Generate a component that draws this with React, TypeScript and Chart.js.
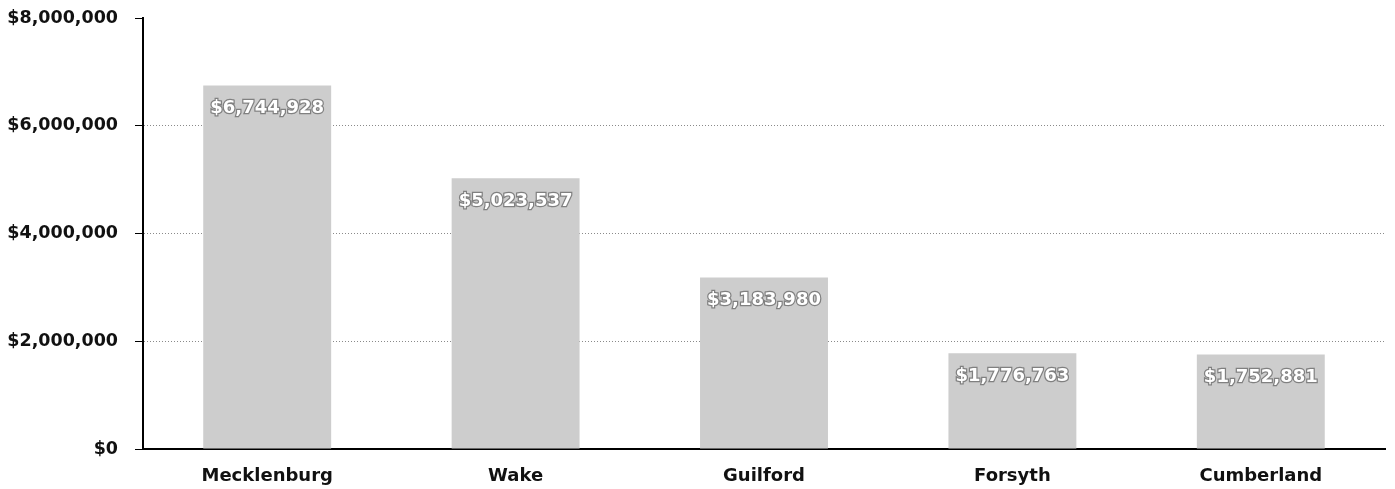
import React, { useEffect, useRef } from "react";
import { Chart, registerables } from "chart.js";

Chart.register(...registerables);

const categories = ["Mecklenburg", "Wake", "Guilford", "Forsyth", "Cumberland"];
const values = [6744928, 5023537, 3183980, 1776763, 1752881];
const valueLabels = ["$6,744,928", "$5,023,537", "$3,183,980", "$1,776,763", "$1,752,881"];
const yTicks = [0, 2000000, 4000000, 6000000, 8000000];

const FONT = "'DejaVu Sans', Verdana, sans-serif";

const fmt = (v: number) => "$" + v.toLocaleString("en-US");

const labelPlugin = {
  id: "barLabels",
  afterDatasetsDraw(chart: any) {
    const ctx = chart.ctx;
    const meta = chart.getDatasetMeta(0);
    ctx.save();
    ctx.font = `bold 18px ${FONT}`;
    ctx.textAlign = "center";
    ctx.textBaseline = "middle";
    meta.data.forEach((bar: any, i: number) => {
      const x = bar.x;
      const y = bar.y + 23;
      ctx.lineWidth = 2.5;
      ctx.strokeStyle = "rgba(120,120,120,0.9)";
      ctx.strokeText(valueLabels[i], x, y);
      ctx.fillStyle = "#ffffff";
      ctx.fillText(valueLabels[i], x, y);
    });
    ctx.restore();
  },
};

export default function App() {
  const ref = useRef<HTMLCanvasElement | null>(null);
  useEffect(() => {
    document.body.style.margin = "0";
    if (!ref.current) return;
    const chart = new Chart(ref.current, {
      type: "bar",
      data: {
        labels: categories,
        datasets: [
          {
            data: values,
            backgroundColor: "#cdcdcd",
            borderWidth: 0,
            barPercentage: 0.515,
            categoryPercentage: 1,
          },
        ],
      },
      options: {
        responsive: false,
        animation: false,
        maintainAspectRatio: false,
        layout: { padding: { top: 18, right: 10, left: 0, bottom: 0 } },
        plugins: { legend: { display: false }, tooltip: { enabled: false } },
        scales: {
          x: {
            grid: { display: false, drawTicks: false },
            border: { color: "#000", width: 2 },
            ticks: {
              color: "#111",
              font: { family: FONT, size: 18, weight: "bold" },
              padding: 17,
            },
            afterFit: (s: any) => {
              s.height = 40;
              s.paddingLeft = 0;
              s.paddingRight = 0;
            },
          },
          y: {
            min: 0,
            max: 8000000,
            afterBuildTicks: (s: any) => {
              s.ticks = yTicks.map((v) => ({ value: v }));
            },
            grid: {
              color: (c: any) => (c.tick && c.tick.value === 8000000 ? "rgba(0,0,0,0)" : "#8a8a8a"),
              lineWidth: 1,
              tickColor: "#000",
              tickLength: 8,
              tickBorderDash: [],
            },
            border: { color: "#000", width: 2, dash: [1, 2] },
            ticks: {
              color: "#111",
              font: { family: FONT, size: 17.5, weight: "bold" },
              padding: 17,
              callback: (v: any) => fmt(Number(v)),
            },
            afterFit: (s: any) => {
              s.width = 143;
              s.paddingTop = 0;
              s.paddingBottom = 0;
            },
          },
        },
      },
      plugins: [labelPlugin],
    });
    return () => chart.destroy();
  }, []);
  return (
    <div style={{ width: 1395, height: 489, background: "#fff" }}>
      <canvas ref={ref} width={1395} height={489} style={{ display: "block" }} />
    </div>
  );
}
